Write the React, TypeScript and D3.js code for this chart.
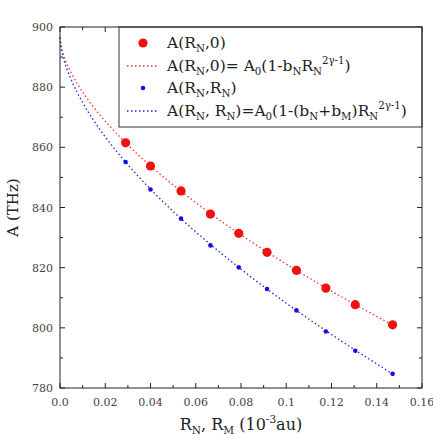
import React, { useEffect, useRef } from "react";
import * as d3 from "d3";

// measured points (R in 10^-3 au, A in THz)
const rValues = [0.029, 0.04, 0.0535, 0.0665, 0.079, 0.0915, 0.1045, 0.1175, 0.1305, 0.147];
const aN0 = [861.5, 853.8, 845.5, 837.8, 831.4, 825.1, 819.1, 813.2, 807.7, 801.0];
const aNM = [855.1, 846.0, 836.3, 827.4, 820.1, 812.9, 805.8, 798.8, 792.4, 784.7];

// fit curves
const fitR = [0, 0.0005, 0.001, 0.002, 0.005, 0.01, 0.015, 0.02, 0.03, 0.04, 0.05, 0.06, 0.08, 0.1, 0.12, 0.14, 0.148];
const fitN0 = [896.5, 893.7, 892.2, 889.8, 884.7, 878.4, 873.2, 868.7, 860.8, 853.8, 847.5, 841.6, 830.9, 821.2, 812.2, 803.8, 800.5];
const fitNM = [896.5, 893.1, 891.2, 888.4, 882.4, 874.9, 868.8, 863.5, 854.2, 846.1, 838.7, 831.9, 819.5, 808.2, 797.8, 788.0, 784.2];

const xTicks = [0, 0.02, 0.04, 0.06, 0.08, 0.1, 0.12, 0.14, 0.16];
const xTickLabels = ["0.0", "0.02", "0.04", "0.06", "0.08", "0.1", "0.12", "0.14", "0.16"];
const yTicks = [780, 800, 820, 840, 860, 880, 900];

type Seg = { t: string; sub?: boolean; sup?: boolean };

const FONT = "'DejaVu Serif', serif";

const App: React.FC = () => {
  const ref = useRef<SVGSVGElement>(null);

  useEffect(() => {
    if (!ref.current) return;
    const svg = d3.select(ref.current);
    svg.selectAll("*").remove();

    const width = 433;
    const height = 439;
    const margin = { top: 27, right: 11, bottom: 51, left: 60 };
    const x = d3.scaleLinear().domain([0, 0.16]).range([margin.left, width - margin.right]);
    const y = d3.scaleLinear().domain([780, 900]).range([height - margin.bottom, margin.top]);
    const x0 = x.range()[0], x1 = x.range()[1];
    const y0 = y.range()[0], y1 = y.range()[1];

    svg.append("rect").attr("width", width).attr("height", height).attr("fill", "#fff");

    // text with sub/superscripts
    const rich = (sel: d3.Selection<SVGTextElement, unknown, null, undefined>, segs: Seg[], size: number) => {
      segs.forEach((s, i) => {
        const prev = i > 0 ? segs[i - 1] : null;
        const prevOff = prev ? (prev.sub ? 0.25 : prev.sup ? -0.45 : 0) : 0;
        const off = s.sub ? 0.25 : s.sup ? -0.45 : 0;
        sel.append("tspan")
          .attr("dy", (off - prevOff) * size)
          .attr("font-size", s.sub || s.sup ? size * 0.66 : size)
          .text(s.t);
      });
    };

    // ticks
    const ticksG = svg.append("g").attr("stroke", "#222").attr("stroke-width", 1);
    d3.range(780, 901, 10).forEach((v) => {
      const len = v % 20 === 0 ? 5 : 3;
      ticksG.append("line").attr("x1", x0).attr("x2", x0 + len).attr("y1", y(v)).attr("y2", y(v));
      ticksG.append("line").attr("x1", x1).attr("x2", x1 - len).attr("y1", y(v)).attr("y2", y(v));
    });
    d3.range(0, 17).forEach((i) => {
      const v = i * 0.01;
      const len = i % 2 === 0 ? 5 : 3;
      ticksG.append("line").attr("x1", x(v)).attr("x2", x(v)).attr("y1", y0).attr("y2", y0 - len);
      ticksG.append("line").attr("x1", x(v)).attr("x2", x(v)).attr("y1", y1).attr("y2", y1 + len);
    });

    // tick labels
    svg.append("g")
      .selectAll("text")
      .data(yTicks)
      .enter()
      .append("text")
      .attr("x", x0 - 7)
      .attr("y", (d) => y(d) + 4)
      .attr("text-anchor", "end")
      .style("font-family", FONT)
      .style("font-size", "11px")
      .attr("fill", "#444")
      .text((d) => String(d));

    svg.append("g")
      .selectAll("text")
      .data(xTicks)
      .enter()
      .append("text")
      .attr("x", (d) => x(d))
      .attr("y", y0 + 18)
      .attr("text-anchor", "middle")
      .style("font-family", FONT)
      .style("font-size", "11px")
      .attr("fill", "#444")
      .text((_, i) => xTickLabels[i]);

    // fit curves
    const line = d3.line<number>()
      .x((_, i) => x(fitR[i]))
      .y((d) => y(d))
      .curve(d3.curveMonotoneX);

    svg.append("path")
      .attr("d", line(fitN0))
      .attr("fill", "none")
      .attr("stroke", "#e33")
      .attr("stroke-width", 1.3)
      .attr("stroke-dasharray", "1.5,2.5");
    svg.append("path")
      .attr("d", line(fitNM))
      .attr("fill", "none")
      .attr("stroke", "#22d")
      .attr("stroke-width", 1.3)
      .attr("stroke-dasharray", "1.5,2.5");

    // markers
    svg.append("g")
      .selectAll("circle")
      .data(aN0)
      .enter()
      .append("circle")
      .attr("cx", (_, i) => x(rValues[i]))
      .attr("cy", (d) => y(d))
      .attr("r", 4.6)
      .attr("fill", "#ee1111");
    svg.append("g")
      .selectAll("circle")
      .data(aNM)
      .enter()
      .append("circle")
      .attr("cx", (_, i) => x(rValues[i]))
      .attr("cy", (d) => y(d))
      .attr("r", 2.3)
      .attr("fill", "#1111dd");

    // legend
    const lg = svg.append("g");
    const lx = 119, ly = 127;
    lg.append("rect")
      .attr("x", lx).attr("y", y1)
      .attr("width", x1 - lx).attr("height", ly - y1)
      .attr("fill", "#fff")
      .attr("stroke", "#333")
      .attr("stroke-width", 1);

    const rows: { kind: "big" | "small" | "red" | "blue"; segs: Seg[] }[] = [
      { kind: "big", segs: [{ t: "A(R" }, { t: "N", sub: true }, { t: ",0)" }] },
      {
        kind: "red",
        segs: [
          { t: "A(R" }, { t: "N", sub: true }, { t: ",0)= A" }, { t: "0", sub: true },
          { t: "(1-b" }, { t: "N", sub: true }, { t: "R" }, { t: "N", sub: true },
          { t: "2γ-1", sup: true }, { t: ")" },
        ],
      },
      { kind: "small", segs: [{ t: "A(R" }, { t: "N", sub: true }, { t: ",R" }, { t: "N", sub: true }, { t: ")" }] },
      {
        kind: "blue",
        segs: [
          { t: "A(R" }, { t: "N", sub: true }, { t: ", R" }, { t: "N", sub: true }, { t: ")=A" },
          { t: "0", sub: true }, { t: "(1-(b" }, { t: "N", sub: true }, { t: "+b" }, { t: "M", sub: true },
          { t: ")R" }, { t: "N", sub: true }, { t: "2γ-1", sup: true }, { t: ")" },
        ],
      },
    ];
    const rowY = [43, 66, 88, 111];
    rows.forEach((r, i) => {
      const cy = rowY[i];
      if (r.kind === "big") lg.append("circle").attr("cx", 143).attr("cy", cy).attr("r", 4.6).attr("fill", "#ee1111");
      if (r.kind === "small") lg.append("circle").attr("cx", 143).attr("cy", cy).attr("r", 2.3).attr("fill", "#1111dd");
      if (r.kind === "red" || r.kind === "blue") {
        lg.append("line")
          .attr("x1", 127).attr("x2", 158).attr("y1", cy).attr("y2", cy)
          .attr("stroke", r.kind === "red" ? "#e33" : "#22d")
          .attr("stroke-width", 1.3)
          .attr("stroke-dasharray", "1.5,2.5");
      }
      const t = lg.append("text")
        .attr("x", 167)
        .attr("y", cy + 5)
        .style("font-family", FONT)
        .attr("fill", "#222");
      rich(t, r.segs, 15.5);
    });

    // frame
    svg.append("rect")
      .attr("x", x0).attr("y", y1)
      .attr("width", x1 - x0).attr("height", y0 - y1)
      .attr("fill", "none")
      .attr("stroke", "#222")
      .attr("stroke-width", 1);

    // axis titles
    svg.append("text")
      .attr("transform", `translate(18,${(y0 + y1) / 2}) rotate(-90)`)
      .attr("text-anchor", "middle")
      .style("font-family", FONT)
      .style("font-size", "15px")
      .attr("fill", "#222")
      .text("A (THz)");

    const xt = svg.append("text")
      .attr("x", (x0 + x1) / 2)
      .attr("y", 430)
      .attr("text-anchor", "middle")
      .style("font-family", FONT)
      .attr("fill", "#222");
    rich(xt, [
      { t: "R" }, { t: "N", sub: true }, { t: ", R" }, { t: "M", sub: true },
      { t: " (10" }, { t: "-3", sup: true }, { t: "au)" },
    ], 16);
  }, []);

  return (
    <svg
      ref={ref}
      width={433}
      height={439}
      style={{ position: "absolute", left: 0, top: 0, display: "block" }}
    />
  );
};

export default App;
